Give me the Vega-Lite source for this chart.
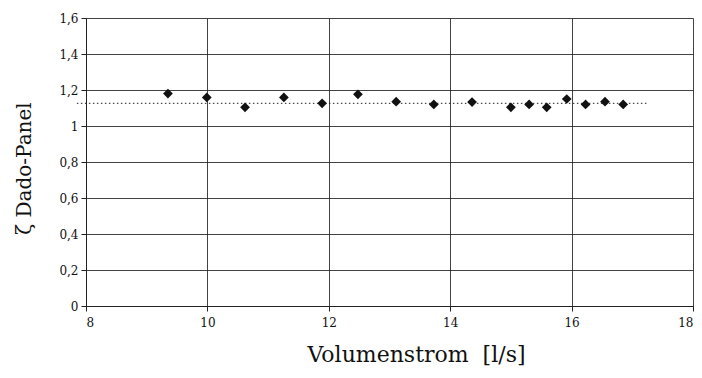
{
  "$schema": "https://vega.github.io/schema/vega-lite/v6.json",
  "width": 607,
  "height": 288,
  "autosize": {"type": "none"},
  "padding": {"left": 86, "top": 18, "right": 9, "bottom": 72},
  "background": "white",
  "config": {
    "view": {"stroke": null},
    "font": "DejaVu Serif",
    "axis": {
      "labelFont": "DejaVu Serif",
      "titleFont": "DejaVu Serif",
      "labelFontSize": 12,
      "titleFontSize": 20,
      "titleFontWeight": "normal",
      "labelColor": "#111",
      "titleColor": "#111",
      "domainColor": "#222",
      "tickColor": "#222",
      "gridColor": "#222",
      "gridOpacity": 0.85,
      "gridWidth": 1,
      "domainWidth": 1,
      "labelOverlap": false
    }
  },
  "datasets": {
    "pts": [
      {"q": 9.35, "z": 1.18},
      {"q": 9.99, "z": 1.159},
      {"q": 10.62, "z": 1.104},
      {"q": 11.26, "z": 1.159},
      {"q": 11.89, "z": 1.126},
      {"q": 12.48, "z": 1.176},
      {"q": 13.11, "z": 1.135},
      {"q": 13.73, "z": 1.12},
      {"q": 14.36, "z": 1.133},
      {"q": 15.0, "z": 1.104},
      {"q": 15.3, "z": 1.12},
      {"q": 15.59, "z": 1.104},
      {"q": 15.92, "z": 1.15},
      {"q": 16.23, "z": 1.12},
      {"q": 16.55, "z": 1.135},
      {"q": 16.85, "z": 1.12}
    ],
    "mean": [
      {"q": 7.85, "z": 1.126},
      {"q": 17.27, "z": 1.126}
    ]
  },
  "encoding": {
    "x": {
      "field": "q", "type": "quantitative",
      "scale": {"domain": [8, 18], "nice": false},
      "axis": {
        "values": [8, 10, 12, 14, 16, 18],
        "format": "d",
        "title": "Volumenstrom\u00a0 [l/s]",
        "titleFontSize": 22,
        "tickSize": 5,
        "labelPadding": 6,
        "titleY": 38,
        "titleX": 330
      }
    },
    "y": {
      "field": "z", "type": "quantitative",
      "scale": {"domain": [0, 1.6], "nice": false},
      "axis": {
        "values": [0, 0.2, 0.4, 0.6, 0.8, 1, 1.2, 1.4, 1.6],
        "labelExpr": "replace(format(datum.value, '.1~f'), '.', ',')",
        "title": "ζ Dado-Panel",
        "tickSize": 5,
        "labelPadding": 3,
        "titleX": -52,
        "titleY": 150
      }
    }
  },
  "layer": [
    {
      "data": {"name": "mean"},
      "mark": {"type": "line", "color": "#222", "strokeDash": [1.5, 2.5], "strokeWidth": 1, "clip": false}
    },
    {
      "data": {"name": "pts"},
      "mark": {"type": "point", "shape": "diamond", "filled": true, "color": "#111", "size": 95, "opacity": 1}
    }
  ]
}
